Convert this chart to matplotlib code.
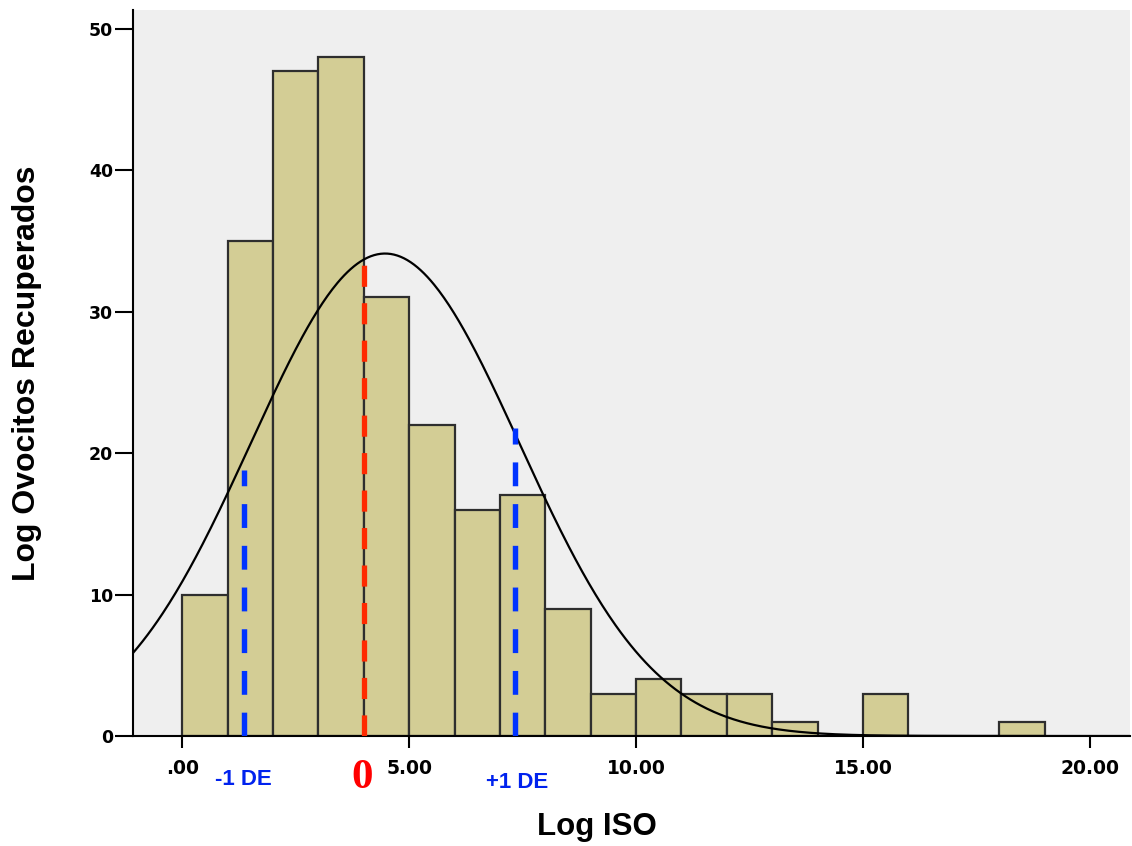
import numpy as np
import matplotlib
matplotlib.use("Agg")
import matplotlib.pyplot as plt

# Data
bin_edges = list(range(0, 19))          # left edges of bins (width 1)
counts = [10, 35, 47, 48, 31, 22, 16, 17, 9, 3, 4, 3, 3, 1, 0, 3, 0, 0, 1]
curve_mean = 4.47
curve_sd = 2.96
n_total = sum(counts)
mean_line_x = 4.0
mean_line_top = 33.3
sd_lines_x = [1.37, 7.33]
sd_lines_top = [18.8, 21.8]
x_ticks = [0, 5, 10, 15, 20]
x_tick_labels = [".00", "5.00", "10.00", "15.00", "20.00"]
y_ticks = [0, 10, 20, 30, 40, 50]
annot_texts = ["-1 DE", "0", "+1 DE"]
annot_x = [1.34, 3.96, 7.37]

fig = plt.figure(figsize=(11.32, 8.46), dpi=100)
ax = fig.add_axes([0.1172, 0.130, 0.881, 0.858])
ax.set_facecolor("#EFEFEF")

ax.bar(bin_edges, counts, width=1.0, align="edge", color="#D3CD95",
       edgecolor="#2E2E2E", linewidth=1.6, zorder=2)

xlim = (-1.09, 20.88)
xs = np.linspace(xlim[0], xlim[1], 600)
ys = n_total * 1.0 / (curve_sd * np.sqrt(2 * np.pi)) * np.exp(-0.5 * ((xs - curve_mean) / curve_sd) ** 2)
ax.plot(xs, ys, color="black", lw=1.6, zorder=3)

ax.plot([mean_line_x, mean_line_x], [0, mean_line_top], color="#FF2A00", lw=3.8,
        dashes=(4.0, 3.1), zorder=4, dash_capstyle="butt")
for x, top in zip(sd_lines_x, sd_lines_top):
    ax.plot([x, x], [0, top], color="#0033FF", lw=3.9, dashes=(4.4, 3.3), zorder=4,
            dash_capstyle="butt")

ax.set_xlim(*xlim)
ax.set_ylim(0, 51.3)

ax.set_xticks(x_ticks)
ax.set_xticklabels(x_tick_labels, fontsize=13.5, fontweight="bold", family="DejaVu Sans")
ax.set_yticks(y_ticks)
ax.set_yticklabels([str(v) for v in y_ticks], fontsize=12.5, fontweight="bold", family="DejaVu Sans")
ax.tick_params(axis="x", length=8.5, width=1.5, pad=8)
ax.tick_params(axis="y", length=13, width=1.5, pad=1)

for s in ["top", "right"]:
    ax.spines[s].set_visible(False)
ax.spines["left"].set_linewidth(1.5)
ax.spines["bottom"].set_linewidth(1.5)

ax.set_xlabel("Log ISO", fontsize=22.5, fontweight="bold", family="Liberation Sans")
ax.xaxis.set_label_coords(0.4655, -0.105)
ax.set_ylabel("Log Ovocitos Recuperados", fontsize=23, fontweight="bold", family="Liberation Sans", labelpad=34)

ax.text(annot_x[0], -3.1, annot_texts[0], color="#0022EE", fontsize=16, fontweight="bold",
        family="Liberation Sans", ha="center", va="center", clip_on=False)
ax.text(annot_x[1], -2.95, annot_texts[1], color="#FF0000", fontsize=31, fontweight="bold",
        family="Liberation Serif", ha="center", va="center", clip_on=False)
ax.text(annot_x[2], -3.3, annot_texts[2], color="#0022EE", fontsize=16, fontweight="bold",
        family="Liberation Sans", ha="center", va="center", clip_on=False)

fig.savefig("out.png", dpi=100)
